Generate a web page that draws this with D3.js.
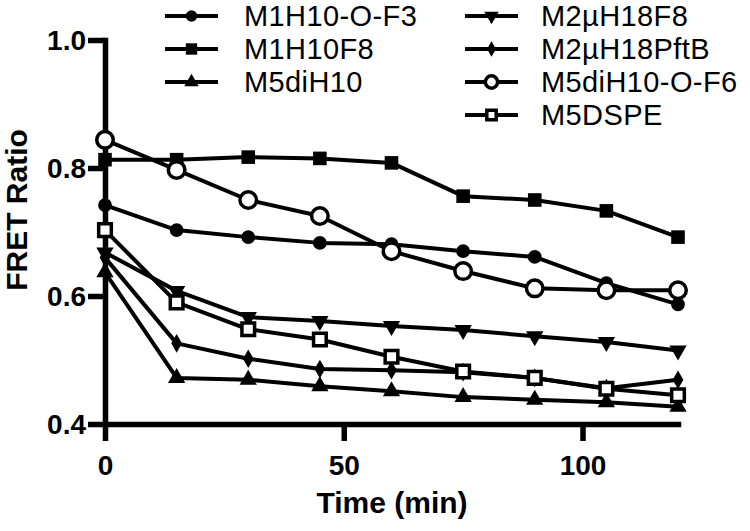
<!DOCTYPE html>
<html><head><meta charset="utf-8">
<script src="https://cdn.jsdelivr.net/npm/d3@7"></script>
<style>body{margin:0;background:#fff}svg{display:block}</style>
</head><body>
<svg id="c" width="750" height="531"></svg>
<script>
const times = [0, 15, 30, 45, 60, 75, 90, 105, 120];
const seriesNames = ["M1H10-O-F3", "M1H10F8", "M5diH10", "M2µH18F8", "M2µH18PftB", "M5diH10-O-F6", "M5DSPE"];
const m1h10OF3   = [0.742, 0.703, 0.692, 0.683, 0.681, 0.670, 0.661, 0.620, 0.587];
const m1h10F8    = [0.813, 0.813, 0.817, 0.815, 0.808, 0.756, 0.750, 0.733, 0.692];
const m5diH10    = [0.637, 0.472, 0.469, 0.459, 0.451, 0.442, 0.438, 0.434, 0.427];
const m2uH18F8   = [0.668, 0.608, 0.567, 0.561, 0.553, 0.547, 0.537, 0.528, 0.515];
const m2uH18PftB = [0.660, 0.526, 0.502, 0.486, 0.484, 0.481, 0.472, 0.456, 0.469];
const m5diH10OF6 = [0.844, 0.797, 0.750, 0.725, 0.670, 0.639, 0.612, 0.609, 0.609];
const m5DSPE     = [0.703, 0.590, 0.548, 0.532, 0.505, 0.482, 0.472, 0.455, 0.445];
const xTicks = [0, 50, 100];
const yTicks = [0.4, 0.6, 0.8, 1.0];

const values = [m1h10OF3, m1h10F8, m5diH10, m2uH18F8, m2uH18PftB, m5diH10OF6, m5DSPE];
const markers = [
  {type: d3.symbolCircle, size: 150, fill: "#000", rot: 0},
  {type: d3.symbolSquare, size: 185, fill: "#000", rot: 0},
  {type: d3.symbolTriangle, size: 130, fill: "#000", rot: 0},
  {type: d3.symbolTriangle, size: 130, fill: "#000", rot: 180},
  {type: d3.symbolDiamond, size: 100, fill: "#000", rot: 0},
  {type: d3.symbolCircle, size: 215, fill: "#fff", rot: 0, open: true},
  {type: d3.symbolSquare, size: 160, fill: "#fff", rot: 0, open: true}
];

const FONT = "'Liberation Sans', Arial, sans-serif";
const svg = d3.select("#c");
const x = d3.scaleLinear().domain([0, 120]).range([105, 678]);
const y = d3.scaleLinear().domain([0.4, 1.0]).range([424, 40]);

// axes
const xAxis = svg.append("g").attr("transform", "translate(0,424)")
  .call(d3.axisBottom(x).tickValues(xTicks).tickSize(17).tickSizeOuter(0).tickFormat(d3.format("d")));
const yAxis = svg.append("g").attr("transform", "translate(105,0)")
  .call(d3.axisLeft(y).tickValues(yTicks).tickSize(17).tickSizeOuter(0).tickFormat(d3.format(".1f")));
[xAxis, yAxis].forEach(a => {
  a.select(".domain").attr("stroke", "#000").attr("stroke-width", 5.5).attr("stroke-linecap", "square");
  a.selectAll(".tick line").attr("stroke", "#000").attr("stroke-width", 5.5);
  a.selectAll(".tick text").attr("fill", "#000")
    .style("font-family", FONT).style("font-weight", "bold").style("font-size", "28px");
});
xAxis.selectAll(".tick text").attr("y", 31).attr("dy", "0.71em");
yAxis.selectAll(".tick text").attr("x", -19).attr("dy", "0.35em");

// axis titles
svg.append("text").attr("x", 392).attr("y", 513).attr("text-anchor", "middle")
  .style("font-family", FONT).style("font-weight", "bold").style("font-size", "30px")
  .text("Time (min)");
svg.append("text").attr("transform", "translate(27,210) rotate(-90)").attr("text-anchor", "middle")
  .style("font-family", FONT).style("font-weight", "bold").style("font-size", "30px")
  .text("FRET Ratio");

const line = d3.line().x((d, i) => x(times[i])).y(d => y(d));

function drawMarker(g, m, cx, cy) {
  g.append("path")
    .attr("d", d3.symbol().type(m.type).size(m.size)())
    .attr("transform", `translate(${cx},${cy}) rotate(${m.rot})`)
    .attr("fill", m.fill)
    .attr("stroke", "#000")
    .attr("stroke-width", m.open ? 3.5 : 0);
}

values.forEach((vals, si) => {
  const g = svg.append("g");
  g.append("path").datum(vals).attr("d", line).attr("fill", "none")
    .attr("stroke", "#000").attr("stroke-width", 4).attr("stroke-linejoin", "round");
  vals.forEach((v, i) => drawMarker(g, markers[si], x(times[i]), y(v)));
});

// legend
const legCols = [{lx: 165, tx: 244}, {lx: 465, tx: 541}];
const legRows = [16, 49, 82, 115];
seriesNames.forEach((name, i) => {
  const col = i < 3 ? 0 : 1;
  const row = i < 3 ? i : i - 3;
  const c = legCols[col], yy = legRows[row];
  const g = svg.append("g");
  g.append("line").attr("x1", c.lx).attr("x2", c.lx + 53).attr("y1", yy).attr("y2", yy)
    .attr("stroke", "#000").attr("stroke-width", 4);
  const m = Object.assign({}, markers[i]);
  m.size = m.size * (m.open ? 0.55 : 0.7);
  drawMarker(g, m, c.lx + 26.5, yy);
  g.append("text").attr("x", c.tx).attr("y", yy).attr("dy", "0.36em")
    .style("font-family", FONT).style("font-size", "29px")
    .style("letter-spacing", "0.4px")
    .text(name);
});
</script>
</body></html>
